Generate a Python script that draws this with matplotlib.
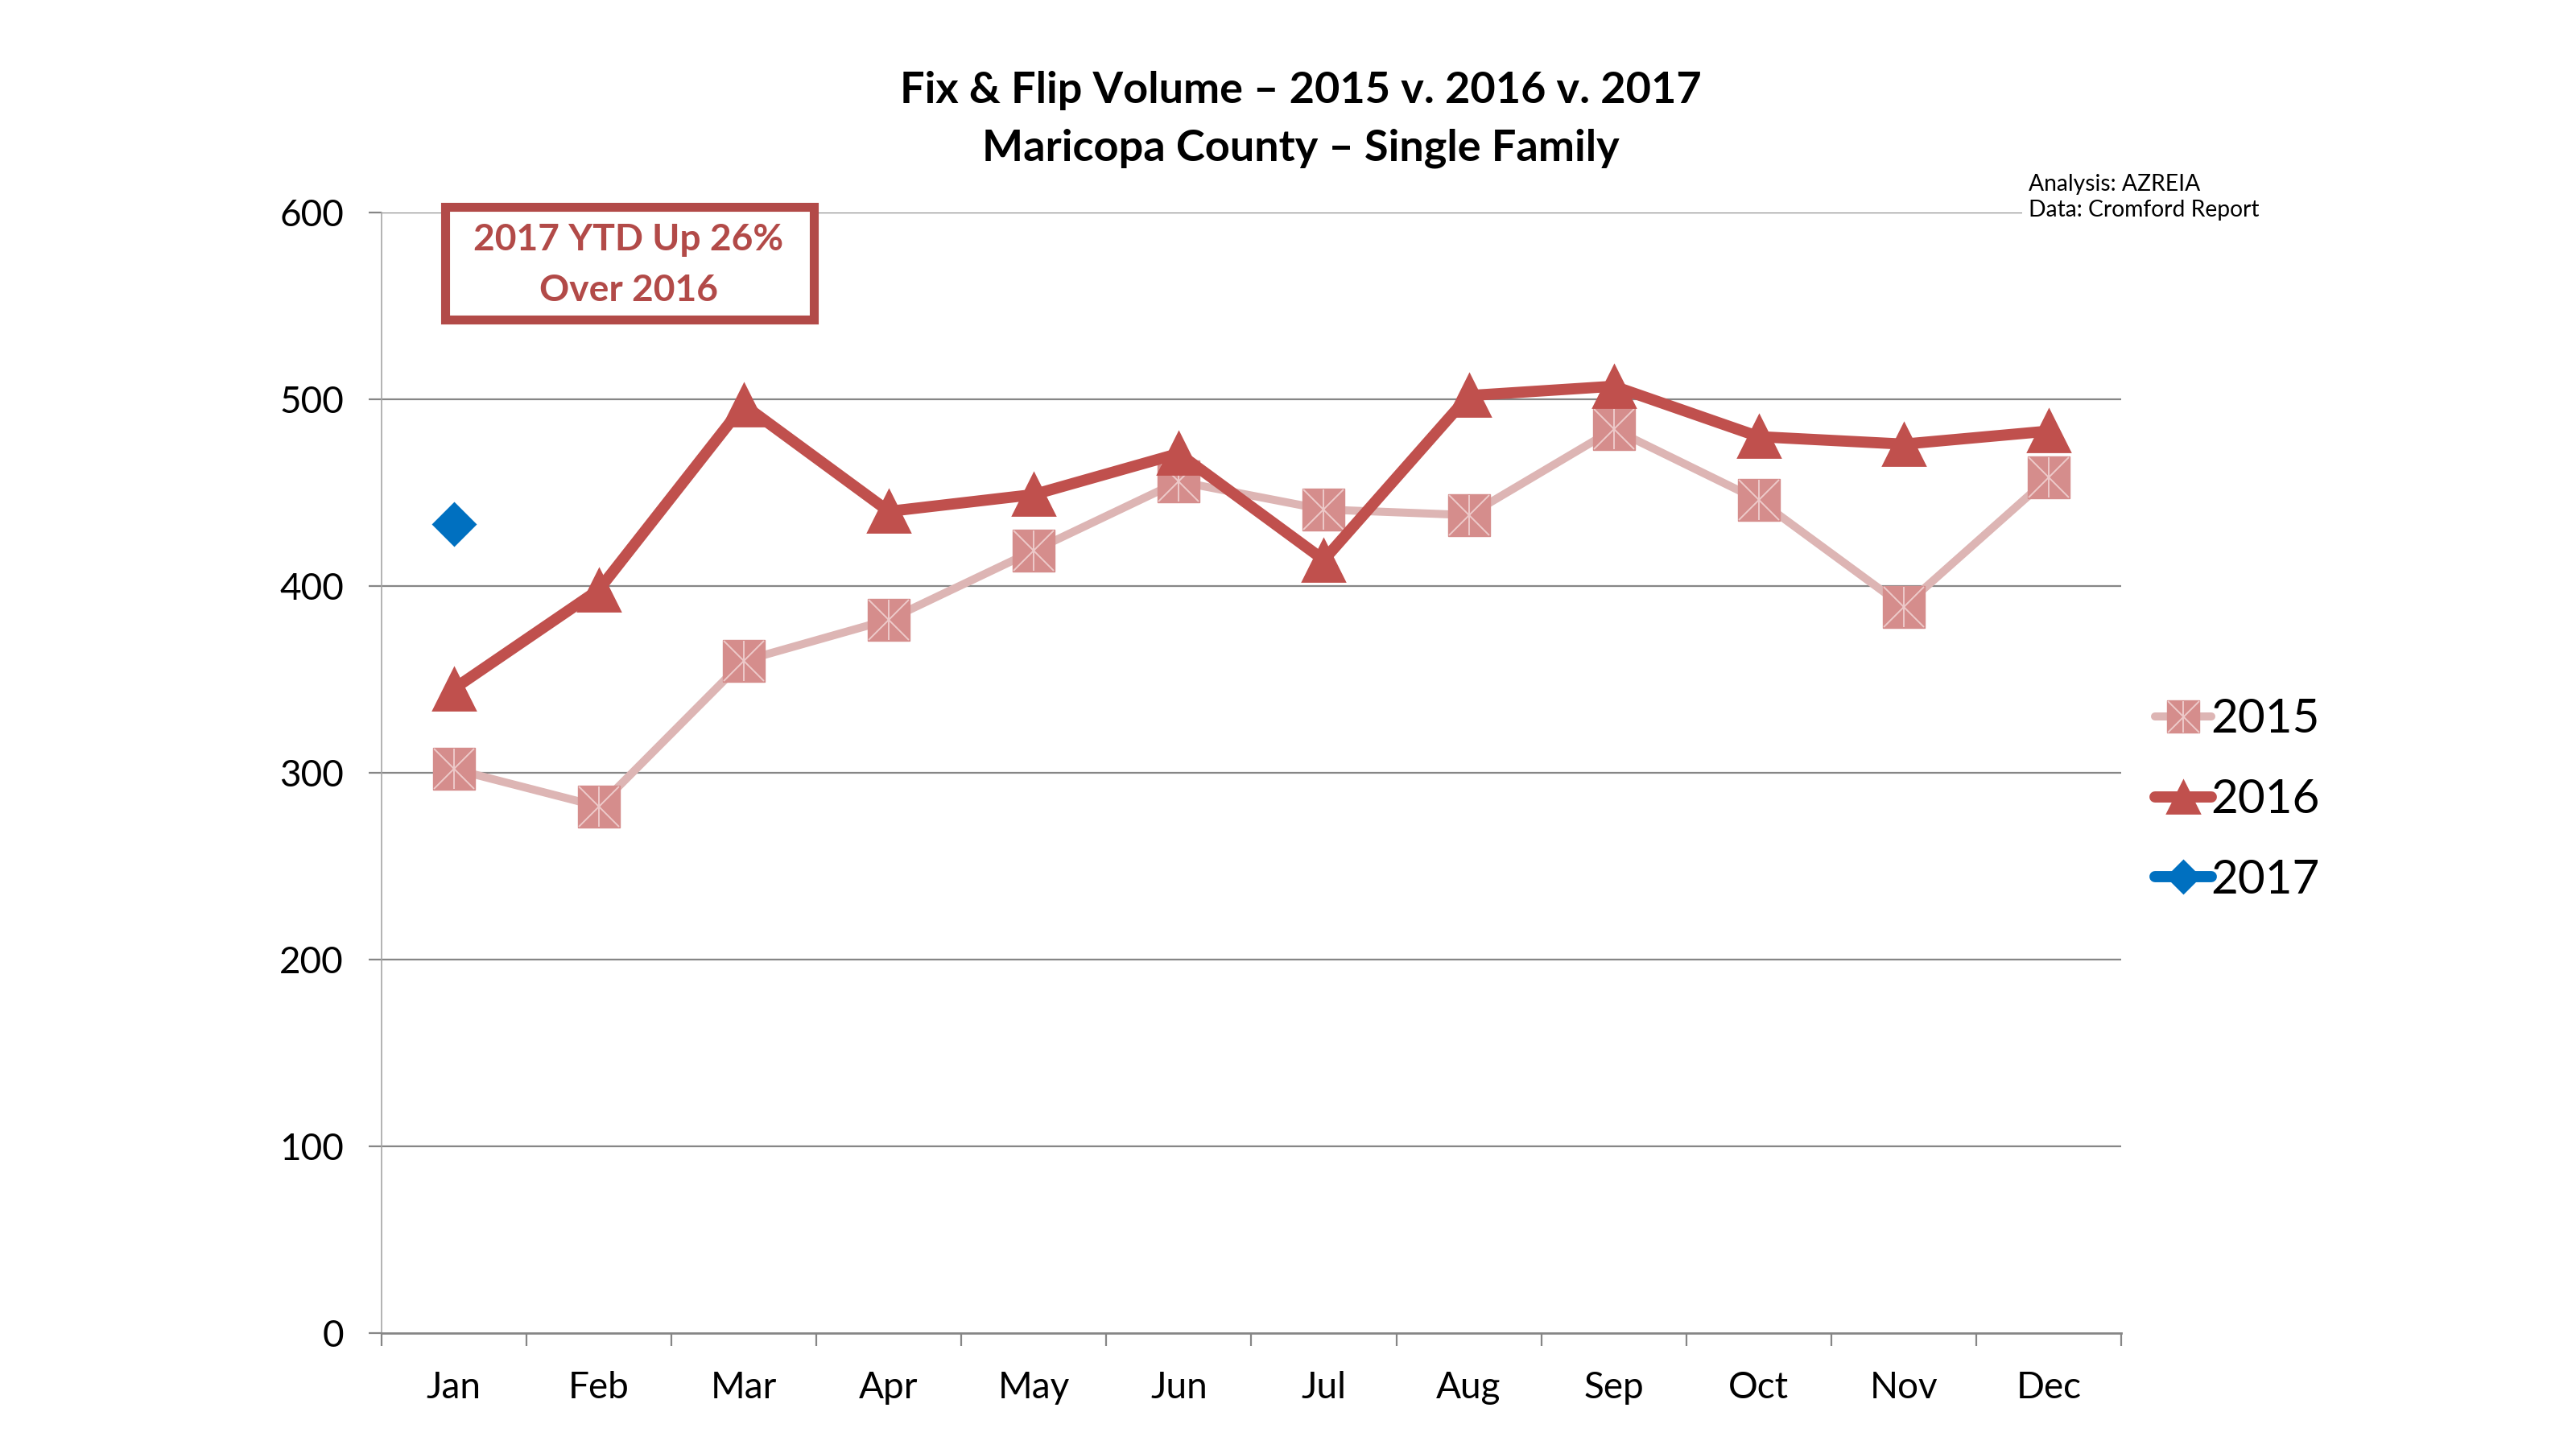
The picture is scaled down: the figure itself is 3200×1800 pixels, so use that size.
import matplotlib
matplotlib.use("Agg")
import matplotlib.pyplot as plt
from matplotlib.patches import Rectangle
from matplotlib.legend_handler import HandlerTuple

plt.rcParams['font.family'] = ['Lato', 'DejaVu Sans']

months = ["Jan", "Feb", "Mar", "Apr", "May", "Jun", "Jul", "Aug", "Sep", "Oct", "Nov", "Dec"]
vol_2015 = [302, 282, 360, 382, 419, 456, 441, 438, 484, 446, 389, 458]
vol_2016 = [345, 398, 497, 440, 449, 471, 414, 502, 507, 480, 476, 483]
vol_2017 = [433]
yticks = [0, 100, 200, 300, 400, 500, 600]

title_text = "Fix & Flip Volume \u2013 2015 v. 2016 v. 2017\nMaricopa County \u2013 Single Family"
box_text = "2017 YTD Up 26%\nOver 2016"
source_text = "Analysis: AZREIA\nData: Cromford Report"

fig = plt.figure(figsize=(16, 9), dpi=200)
ax = fig.add_axes([0.148, 0.08, 0.6755, 0.7733])

x15 = list(range(len(vol_2015)))
x16 = list(range(len(vol_2016)))
x17 = list(range(len(vol_2017)))

grid_c = '#868686'
for y in yticks[1:]:
    ax.axhline(y, color=grid_c, lw=0.8, zorder=1)

l15, = ax.plot(x15, vol_2015, color='#DDB5B4', lw=3.6, marker='s', markersize=18.5,
               markerfacecolor='#D58D8C', markeredgecolor='#D58D8C', markeredgewidth=0.5,
               solid_capstyle='round', zorder=3)
x15a, = ax.plot(x15, vol_2015, ls='none', marker='x', markersize=18, markeredgecolor='#EDCACA',
                markeredgewidth=0.7, zorder=4)
x15b, = ax.plot(x15, vol_2015, ls='none', marker='|', markersize=18, markeredgecolor='#EDCACA',
                markeredgewidth=0.7, zorder=4)
l16, = ax.plot(x16, vol_2016, color='#C0504D', lw=5, marker='^', markersize=18.5,
               markerfacecolor='#C0504D', markeredgecolor='#C0504D',
               solid_capstyle='round', zorder=5)
l17, = ax.plot(x17, vol_2017, color='#0070C0', lw=5, marker='D', markersize=13,
               markerfacecolor='#0070C0', markeredgecolor='#0070C0',
               solid_capstyle='round', zorder=6)

ax.set_xlim(-0.5, len(months) - 0.5)
ax.set_ylim(0, 600)
ax.set_yticks(yticks)
ax.set_yticklabels([str(v) for v in yticks])
ax.set_xticks(x15)
ax.set_xticklabels(months)
ax.set_xticks([i - 0.5 for i in range(len(months) + 1)], minor=True)
ax.tick_params(axis='x', which='major', length=0, pad=17, labelsize=16.5)
ax.tick_params(axis='x', which='minor', length=5.8, width=0.8, color=grid_c, direction='out')
ax.tick_params(axis='y', length=5.8, width=0.8, color=grid_c, pad=11, labelsize=16.5)

for s in ['top', 'right']:
    ax.spines[s].set_visible(False)
ax.spines['left'].set_color('#A6A6A6')
ax.spines['left'].set_linewidth(0.6)
ax.spines['bottom'].set_color(grid_c)
ax.spines['bottom'].set_linewidth(1.0)

fig.text(0.505, 0.9175, title_text, ha='center', va='center', fontsize=19.5,
         fontweight='bold', linespacing=1.55)

box = Rectangle((0.1727, 0.7797), 0.1431, 0.0778, transform=fig.transFigure,
                facecolor='white', edgecolor='#B24A48', linewidth=4, zorder=2)
fig.patches.append(box)
fig.text(0.244, 0.817, box_text, ha='center', va='center', fontsize=16.6,
         fontweight='bold', color='#B24A48', linespacing=1.6, zorder=3)

fig.text(0.7875, 0.864, source_text, ha='left', va='center', fontsize=10.2,
         linespacing=1.3, bbox=dict(boxstyle='square,pad=0.3', facecolor='white', edgecolor='none'))

leg = fig.legend([(l15, x15a, x15b), l16, l17], ["2015", "2016", "2017"],
                 loc='center left', bbox_to_anchor=(0.82, 0.448), frameon=False,
                 fontsize=21, handlelength=1.2, handletextpad=0.0, labelspacing=0.8,
                 markerscale=0.78, handler_map={tuple: HandlerTuple(ndivide=1, pad=0)})

fig.savefig("out.png", dpi=200, facecolor='white')
